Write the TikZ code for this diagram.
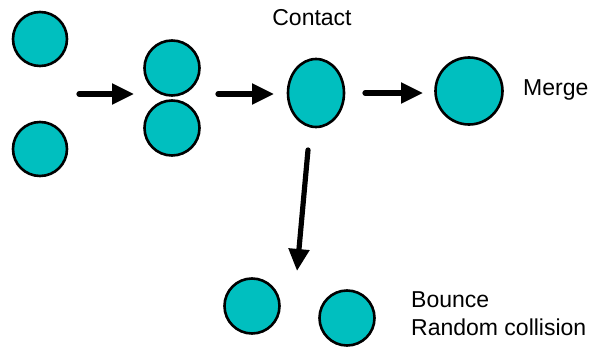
\documentclass[tikz,border=0pt]{standalone}
\usepackage{fontspec}
\setmainfont{Liberation Sans}
\usetikzlibrary{arrows.meta,shapes.geometric}
\definecolor{teal1}{RGB}{0,191,191}
\begin{document}
\begin{tikzpicture}[x=1pt,y=-1pt,
  ball/.style={circle,draw=black,fill=teal1,line width=2.6pt,minimum size=#1,inner sep=0pt},
  oval/.style={ellipse,draw=black,fill=teal1,line width=2.6pt,minimum width=56pt,minimum height=68pt,inner sep=0pt},
  flow/.style={line width=5.2pt,line cap=round,-{Triangle[length=22pt,width=20pt]}},
  lbl/.style={font=\fontsize{23}{32}\selectfont,inner sep=0pt}]
\useasboundingbox (0,0) rectangle (595,348);
% balls
\node[ball=54pt] (A) at (40,39) {};
\node[ball=54pt] (B) at (40,149) {};
\node[ball=55pt] (C) at (172,68) {};
\node[ball=55pt] (D) at (172,128) {};
\node[oval] (E) at (316,93) {};
\node[ball=67pt] (F) at (469,91) {};
\node[ball=55pt] (G) at (252,306) {};
\node[ball=55pt] (H) at (347,318) {};
% labels
\node[lbl] (contact) at (312,18) {Contact};
\node[lbl,anchor=west] (merge) at (523,90) {Merge};
\node[lbl,anchor=west] (bounce) at (411,300) {Bounce};
\node[lbl,anchor=west] (random) at (411,327) {Random collision};
% arrow ends
\coordinate (a1s) at (79,94);
\coordinate (a1e) at (134,94);
\coordinate (a2s) at (218,94);
\coordinate (a2e) at (274,94);
\coordinate (a3s) at (365,93);
\coordinate (a3e) at (423,93);
\coordinate (a4s) at (308,150);
\coordinate (a4e) at (297,271);
\draw[flow] (a1s) -- (a1e);
\draw[flow] (a2s) -- (a2e);
\draw[flow] (a3s) -- (a3e);
\draw[flow] (a4s) -- (a4e);
\end{tikzpicture}
\end{document}
